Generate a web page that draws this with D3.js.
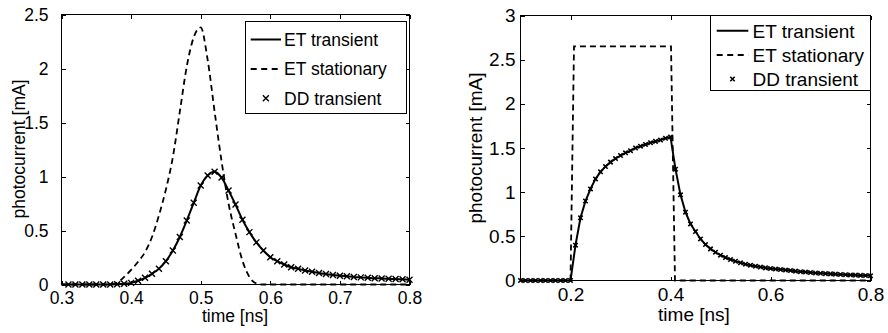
<!DOCTYPE html>
<html><head><meta charset="utf-8">
<script src="https://cdn.jsdelivr.net/npm/d3@7"></script>
<style>
html,body{margin:0;padding:0;background:#fff;}
svg{display:block;font-family:"Liberation Sans",Arial,sans-serif;}
</style></head>
<body>
<svg id="chart" width="888" height="333"></svg>
<script>
// ---------- Data (left panel: Gaussian pulse) ----------
const leftTime = [0.30,0.31,0.32,0.33,0.34,0.35,0.36,0.37,0.38,0.39,
  0.40,0.41,0.42,0.43,0.44,0.45,0.46,0.47,0.48,0.49,
  0.50,0.51,0.52,0.53,0.54,0.55,0.56,0.57,0.58,0.59,
  0.60,0.61,0.62,0.63,0.64,0.65,0.66,0.67,0.68,0.69,
  0.70,0.71,0.72,0.73,0.74,0.75,0.76,0.77,0.78,0.79,0.80];
const leftETTransient = [0,0,0,0,0,0,0.001,0.001,0.003,0.006,
  0.015,0.035,0.062,0.099,0.147,0.216,0.315,0.44,0.592,0.756,
  0.917,1.01,1.045,0.99,0.87,0.74,0.60,0.485,0.39,0.315,
  0.253,0.216,0.185,0.16,0.145,0.13,0.118,0.107,0.097,0.089,
  0.082,0.076,0.07,0.066,0.062,0.058,0.056,0.053,0.05,0.048,0.045];
const leftETStationary = [0,0,0,0,0,0,0,0,0.015,0.07,
  0.135,0.21,0.30,0.44,0.64,0.88,1.18,1.6,2.02,2.29,
  2.38,2.08,1.60,1.14,0.75,0.47,0.22,0.07,0.01,0,
  0,0,0,0,0,0,0,0,0,0,
  0,0,0,0,0,0,0,0,0,0,0];
const leftDDTime = [0.31,0.32,0.33,0.34,0.35,0.36,0.37,0.38,0.39,
  0.40,0.41,0.42,0.43,0.44,0.45,0.46,0.47,0.48,0.49,
  0.50,0.51,0.52,0.53,0.54,0.55,0.56,0.57,0.58,0.59,
  0.60,0.61,0.62,0.63,0.64,0.65,0.66,0.67,0.68,0.69,
  0.70,0.71,0.72,0.73,0.74,0.75,0.76,0.77,0.78,0.79,0.80];
const leftDDTransient = [0,0,0,0,0,0.001,0.001,0.003,0.006,
  0.015,0.035,0.062,0.099,0.145,0.216,0.315,0.44,0.592,0.756,
  0.917,1.01,1.045,0.99,0.87,0.74,0.60,0.485,0.39,0.315,
  0.253,0.216,0.185,0.16,0.145,0.13,0.118,0.107,0.097,0.089,
  0.082,0.076,0.07,0.066,0.062,0.058,0.056,0.053,0.05,0.048,0.045];

// ---------- Data (right panel: rectangular pulse) ----------
const rightTime = [0.10,0.11,0.12,0.13,0.14,0.15,0.16,0.17,0.18,0.19,
  0.20,0.21,0.22,0.23,0.24,0.25,0.26,0.27,0.28,0.29,
  0.30,0.31,0.32,0.33,0.34,0.35,0.36,0.37,0.38,0.39,
  0.40,0.41,0.42,0.43,0.44,0.45,0.46,0.47,0.48,0.49,
  0.50,0.51,0.52,0.53,0.54,0.55,0.56,0.57,0.58,0.59,
  0.60,0.61,0.62,0.63,0.64,0.65,0.66,0.67,0.68,0.69,
  0.70,0.71,0.72,0.73,0.74,0.75,0.76,0.77,0.78,0.79,0.80];
const rightETTransient = [0,0,0,0,0,0,0,0,0,0,
  0,0.40,0.71,0.90,1.037,1.15,1.23,1.29,1.34,1.38,
  1.415,1.445,1.47,1.50,1.52,1.54,1.56,1.575,1.59,1.61,
  1.625,1.26,0.97,0.773,0.64,0.554,0.47,0.407,0.358,0.32,
  0.286,0.26,0.237,0.218,0.2,0.185,0.173,0.162,0.152,0.143,
  0.136,0.13,0.124,0.118,0.112,0.106,0.1,0.095,0.09,0.085,
  0.081,0.078,0.075,0.072,0.069,0.066,0.063,0.061,0.058,0.056,0.053];
const rightStatTime = [0.10,0.20,0.207,0.401,0.409,0.80];
const rightETStationary = [0,0,2.65,2.65,0,0];
const rightDDTransient = rightETTransient.slice();

// ---------- Tick labels ----------
const leftXTicks = [0.3,0.4,0.5,0.6,0.7,0.8];
const leftYTicks = [0,0.5,1,1.5,2,2.5];
const rightXTicks = [0.2,0.4,0.6,0.8];
const rightYTicks = [0,0.5,1,1.5,2,2.5,3];
const legendLabels = ["ET transient","ET stationary","DD transient"];
const xLabel = "time [ns]";
const yLabel = "photocurrent [mA]";

const fmt = d => String(d);
const svg = d3.select("#chart");

function drawPanel(cfg){
  const g = svg.append("g");
  const x = d3.scaleLinear().domain(cfg.xDomain).range(cfg.xRange);
  const y = d3.scaleLinear().domain(cfg.yDomain).range(cfg.yRange);
  const fs = cfg.fontSize;

  const bottom = g.append("g").attr("transform",`translate(0,${cfg.yRange[0]})`)
    .call(d3.axisBottom(x).tickValues(cfg.xTicks).tickFormat(fmt).tickSize(-4).tickPadding(cfg.xPad));
  const top = g.append("g").attr("transform",`translate(0,${cfg.yRange[1]})`)
    .call(d3.axisTop(x).tickValues(cfg.xTicks).tickFormat("").tickSize(-4));
  const left = g.append("g").attr("transform",`translate(${cfg.xRange[0]},0)`)
    .call(d3.axisLeft(y).tickValues(cfg.yTicks).tickFormat(fmt).tickSize(-4).tickPadding(cfg.yPad));
  const right = g.append("g").attr("transform",`translate(${cfg.xRange[1]},0)`)
    .call(d3.axisRight(y).tickValues(cfg.yTicks).tickFormat("").tickSize(-4));
  [bottom,top,left,right].forEach(a=>{
    a.select(".domain").remove();
    a.selectAll("line").attr("stroke","#000").attr("stroke-width",1).attr("shape-rendering","crispEdges");
    a.selectAll("text").attr("fill","#000").style("font-size",fs+"px").style("font-family","'Liberation Sans',Arial,sans-serif");
  });

  g.append("rect")
    .attr("x",cfg.xRange[0]).attr("y",cfg.yRange[1])
    .attr("width",cfg.xRange[1]-cfg.xRange[0]).attr("height",cfg.yRange[0]-cfg.yRange[1])
    .attr("fill","none").attr("stroke","#000").attr("stroke-width",1).attr("shape-rendering","crispEdges");

  const mk = (xs,ys) => xs.map((t,i)=>[t,ys[i]]);
  const line = d3.line().x(d=>x(d[0])).y(d=>y(d[1])).curve(cfg.curve);
  g.append("path").datum(mk(cfg.statTime,cfg.stat))
    .attr("d",line).attr("fill","none").attr("stroke","#000")
    .attr("stroke-width",1.8).attr("stroke-dasharray","6,4");
  g.append("path").datum(mk(cfg.transTime,cfg.trans))
    .attr("d",line).attr("fill","none").attr("stroke","#000").attr("stroke-width",2);

  const s = cfg.markerHalf;
  const xPath = `M${-s},${-s}L${s},${s}M${-s},${s}L${s},${-s}`;
  g.append("g").selectAll("path").data(mk(cfg.ddTime,cfg.dd)).join("path")
    .attr("transform",d=>`translate(${x(d[0])},${y(d[1])})`)
    .attr("d",xPath).attr("fill","none").attr("stroke","#000").attr("stroke-width",cfg.markerStroke);

  g.append("text").attr("x",cfg.xLabelPos[0]).attr("y",cfg.xLabelPos[1])
    .attr("text-anchor","middle").style("font-size",fs+"px").text(xLabel);
  g.append("text").attr("transform",`translate(${cfg.yLabelPos[0]},${cfg.yLabelPos[1]}) rotate(-90)`)
    .attr("text-anchor","middle").style("font-size",fs+"px").text(yLabel);

  const L = cfg.legend;
  const lg = g.append("g");
  lg.append("rect").attr("x",L.x0).attr("y",L.y0).attr("width",L.x1-L.x0).attr("height",L.y1-L.y0)
    .attr("fill","#fff").attr("stroke","#000").attr("stroke-width",1).attr("shape-rendering","crispEdges");
  legendLabels.forEach((lab,i)=>{
    const ry = L.rows[i];
    if(i===0){
      lg.append("line").attr("x1",L.lx0).attr("x2",L.lx1).attr("y1",ry).attr("y2",ry)
        .attr("stroke","#000").attr("stroke-width",2);
    } else if(i===1){
      lg.append("line").attr("x1",L.lx0).attr("x2",L.lx1).attr("y1",ry).attr("y2",ry)
        .attr("stroke","#000").attr("stroke-width",1.8).attr("stroke-dasharray","6,4.5");
    } else {
      lg.append("path").attr("transform",`translate(${(L.lx0+L.lx1)/2},${ry})`)
        .attr("d",xPath).attr("fill","none").attr("stroke","#000").attr("stroke-width",cfg.markerStroke);
    }
    lg.append("text").attr("x",L.tx).attr("y",ry).attr("dy","0.36em")
      .style("font-size",fs+"px").text(lab);
  });
}

drawPanel({
  xDomain:[0.3,0.8], xRange:[61.5,409.5],
  yDomain:[0,2.5], yRange:[284.5,14.5],
  xTicks:leftXTicks, yTicks:leftYTicks,
  fontSize:17.5, xPad:7, yPad:13,
  curve:d3.curveMonotoneX,
  transTime:leftTime, trans:leftETTransient,
  statTime:leftTime, stat:leftETStationary,
  ddTime:leftDDTime, dd:leftDDTransient,
  markerHalf:3, markerStroke:1.4,
  xLabelPos:[235,321.5], yLabelPos:[25,149],
  legend:{x0:245.5,y0:21.5,x1:406.5,y1:113.5,rows:[39.5,69,98.3],lx0:250.7,lx1:281,tx:284}
});

drawPanel({
  xDomain:[0.1,0.8], xRange:[520.5,870.5],
  yDomain:[0,3], yRange:[280.5,15.5],
  xTicks:rightXTicks, yTicks:rightYTicks,
  fontSize:19, xPad:7, yPad:5,
  curve:d3.curveLinear,
  transTime:rightTime, trans:rightETTransient,
  statTime:rightStatTime, stat:rightETStationary,
  ddTime:rightTime, dd:rightDDTransient,
  markerHalf:2.2, markerStroke:1.6,
  xLabelPos:[694,320.5], yLabelPos:[482,148],
  legend:{x0:710.5,y0:15.5,x1:870.5,y1:90.5,rows:[30.7,55,79],lx0:716.7,lx1:748.3,tx:752.5}
});
</script>
</body></html>
